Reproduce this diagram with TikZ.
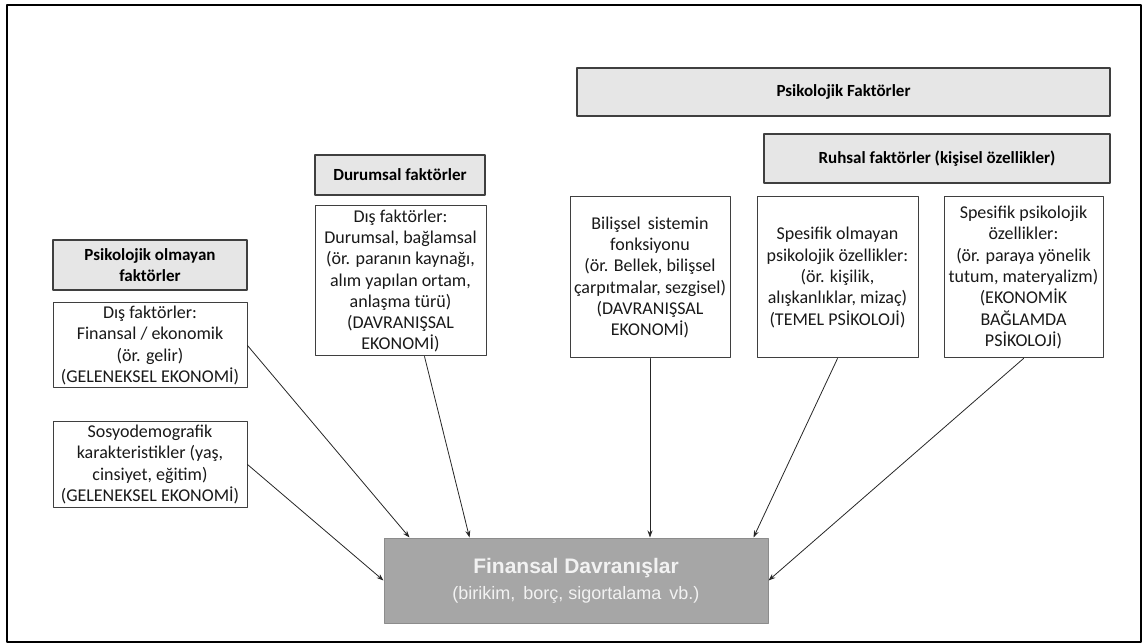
\documentclass[tikz,border=0pt]{standalone}
\usepackage{fontspec}
\setmainfont{Carlito}
\newfontfamily\arialfont{Liberation Sans}
\usetikzlibrary{arrows.meta}
\definecolor{headgray}{HTML}{E6E6E6}
\definecolor{fingray}{HTML}{A6A6A6}
\definecolor{edgegray}{HTML}{3F3F3F}
\begin{document}
\begin{tikzpicture}[x=1pt,y=-1pt,line cap=round,line join=round,
    font=\fontsize{18}{21.3}\selectfont,
    head/.style={draw=edgegray,line width=1.2pt,fill=headgray,align=center,inner sep=0pt,font=\fontsize{17}{21.3}\selectfont\bfseries},
    factor/.style={draw=edgegray,line width=1pt,fill=white,align=center,inner sep=0pt,text=black!90},
    link/.style={-{Stealth[length=7pt,width=5pt]},line width=.8pt,draw=black!85}]
    \useasboundingbox (0,0) rectangle (1144,644);
    \draw[line width=2pt](7,5) rectangle (1141,642);
    % upper headers
    \node[head,minimum width=533pt,minimum height=48pt](psik) at (843.5,92){Psikolojik Faktörler};
    \node[head,minimum width=346pt,minimum height=49pt](ruhsal) at (937,158.5){Ruhsal faktörler (kişisel özellikler)};
    \node[head,minimum width=170pt,minimum height=40pt](durhead) at (400,175){Durumsal faktörler};
    \node[head,minimum width=194pt,minimum height=50pt](pohead) at (150,265){Psikolojik olmayan\\faktörler};
    % factor boxes
    \node[factor,minimum width=171pt,minimum height=150pt](durdis) at (400.5,281){Dış faktörler:\\Durumsal, bağlamsal\\(ör. paranın kaynağı,\\alım yapılan ortam,\\anlaşma türü)\\(DAVRANIŞSAL\\EKONOMİ)};
    \node[factor,minimum width=160pt,minimum height=161pt](bilis) at (650,277.5){Bilişsel\, sistemin\\fonksiyonu\\(ör. Bellek, bilişsel\\çarpıtmalar, sezgisel)\\(DAVRANIŞSAL\\EKONOMİ)};
    \node[factor,minimum width=161pt,minimum height=161pt](spolm) at (837.5,277.5){Spesifik olmayan\\psikolojik özellikler:\\(ör. kişilik,\\alışkanlıklar, mizaç)\\(TEMEL PSİKOLOJİ)};
    \node[factor,minimum width=159pt,minimum height=161pt](spsik) at (1023.5,277.5){Spesifik psikolojik\\özellikler:\\(ör. paraya yönelik\\tutum, materyalizm)\\(EKONOMİK\\BAĞLAMDA\\PSİKOLOJİ)};
    \node[factor,minimum width=194pt,minimum height=85pt](findis) at (150,345.5){Dış faktörler:\\Finansal / ekonomik\\(ör. gelir)\\(GELENEKSEL EKONOMİ)};
    \node[factor,minimum width=194pt,minimum height=85pt](sosyo) at (150,464.5){Sosyodemografik\\karakteristikler (yaş,\\cinsiyet, eğitim)\\(GELENEKSEL EKONOMİ)};
    % target
    \node[draw=black!45,line width=1pt,fill=fingray,text=white!95!black,align=center,inner sep=0pt,
        minimum width=384pt,minimum height=85pt,font=\arialfont\fontsize{18}{26}\selectfont](fin) at (576,580.5)
        {{\fontsize{21}{26}\selectfont\bfseries Finansal Davranışlar}\\(birikim,\, borç, sigortalama\, vb.)};
    % links
    \draw[link](findis.east)--([xshift=26pt]fin.north west);
    \draw[link](sosyo.east)--(fin.west);
    \draw[link]([xshift=24pt]durdis.south)--([xshift=86pt]fin.north west);
    \draw[link](bilis.south)--(bilis.south |- fin.north);
    \draw[link](spolm.south)--([xshift=-15pt]fin.north east);
    \draw[link](spsik.south)--(fin.east);
\end{tikzpicture}
\end{document}
